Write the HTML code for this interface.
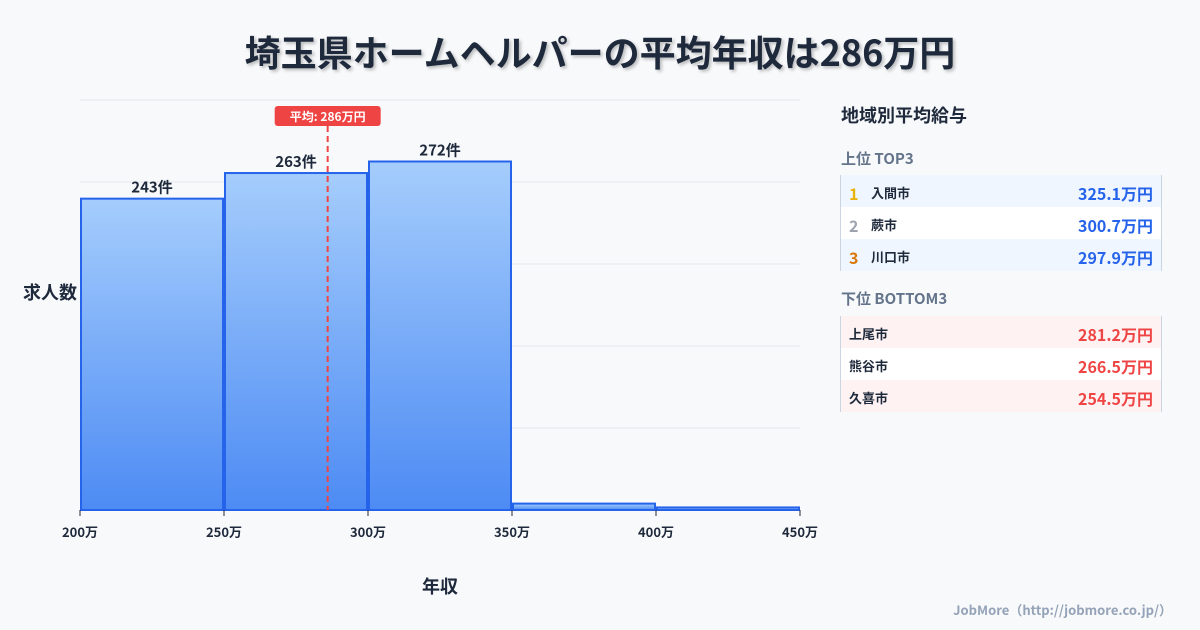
<!DOCTYPE html>
<html><head><meta charset="utf-8"><style>
body{margin:0;width:1200px;height:630px;background:#f8f9fb;font-family:"Noto Sans CJK JP","Liberation Sans",sans-serif;position:relative;overflow:hidden;color:#1e293b}
.title{position:absolute;top:26px;left:0;width:1200px;text-align:center;font-size:36px;line-height:50px;font-weight:bold;color:#1e293b;text-shadow:2px 2px 3px rgba(0,0,0,0.25)}
.ab{position:absolute;line-height:1}
.ph{left:841px;top:106px;font-size:18px;font-weight:bold}
.sub{left:841px;font-size:15px;font-weight:bold;color:#64748b}
.tbl{position:absolute;left:840px;width:320px;border-left:1px solid #cbd5e1;border-right:1px solid #cbd5e1}
.row{height:32px;display:flex;align-items:center;font-size:13px;font-weight:bold;padding:3px 8px 0;box-sizing:border-box;position:relative;line-height:1}
.row .v{position:absolute;right:8px;font-size:16px}
.rk{width:22px;font-size:16px}
.foot{right:28px;top:603px;font-size:13px;color:#94a3b8;font-weight:bold}
</style></head><body>
<div class="title">埼玉県ホームヘルパーの平均年収は286万円</div>
<svg id="chart" width="830" height="630" style="position:absolute;left:0;top:0;font-family:'Noto Sans CJK JP','Liberation Sans',sans-serif">
<defs><linearGradient id="g" x1="0" y1="0" x2="0" y2="1"><stop offset="0" stop-color="#a5cdfc"/><stop offset="1" stop-color="#4d8bf4"/></linearGradient></defs>
</svg>
<div class="ab ph">地域別平均給与</div>
<div class="ab sub" style="top:151px">上位 TOP3</div>
<div class="tbl" style="top:175px">
<div class="row" style="background:#eff6ff"><span class="rk" style="color:#eab308">1</span>入間市<span class="v" style="color:#2563eb">325.1万円</span></div>
<div class="row" style="background:#fff"><span class="rk" style="color:#9ca3af">2</span>蕨市<span class="v" style="color:#2563eb">300.7万円</span></div>
<div class="row" style="background:#eff6ff"><span class="rk" style="color:#d97706">3</span>川口市<span class="v" style="color:#2563eb">297.9万円</span></div>
</div>
<div class="ab sub" style="top:291px">下位 BOTTOM3</div>
<div class="tbl" style="top:316px">
<div class="row" style="background:#fef2f2">上尾市<span class="v" style="color:#ef4444">281.2万円</span></div>
<div class="row" style="background:#fff">熊谷市<span class="v" style="color:#ef4444">266.5万円</span></div>
<div class="row" style="background:#fef2f2">久喜市<span class="v" style="color:#ef4444">254.5万円</span></div>
</div>
<div class="ab foot">JobMore（http://jobmore.co.jp/）</div>
<script>
const binStarts=[200,250,300,350,400];
const counts=[243,263,272,5,2];
const tickLabels=["200万","250万","300万","350万","400万","450万"];
const tickValues=[200,250,300,350,400,450];
const avgValue=286;
const avgLabel="平均: 286万円";
const yMax=320;
const NS="http://www.w3.org/2000/svg";
const svg=document.getElementById('chart');
const x=v=>80+(v-200)*720/250;
const y=v=>510-v*410/yMax;
function mk(t,a,p){const e=document.createElementNS(NS,t);for(const k in a)e.setAttribute(k,a[k]);(p||svg).appendChild(e);return e;}
for(let i=0;i<=5;i++){const g=mk('line',{x1:80,x2:800,y1:y(i*yMax/5),y2:y(i*yMax/5),stroke:'#e5e7eb','stroke-width':1});

}
binStarts.forEach((b,i)=>{
const r=mk('rect',{x:x(b)+1,y:y(counts[i]),width:x(b+50)-x(b)-2,height:510-y(counts[i]),fill:'url(#g)',stroke:'#2563eb','stroke-width':2});


if(counts[i]>50){const t=mk('text',{x:(x(b)+x(b+50))/2,y:y(counts[i])-6,'text-anchor':'middle','font-size':15,'font-weight':'bold',fill:'#1e293b'});t.textContent=counts[i]+'件';

}
});
tickValues.forEach((v,i)=>{
const l=mk('line',{x1:x(v),x2:x(v),y1:510,y2:516,stroke:'#1e293b'});


const t=mk('text',{x:x(v),y:537,'text-anchor':'middle','font-size':13,'font-weight':'bold',fill:'#1e293b'});t.textContent=tickLabels[i];


});
const ax=x(avgValue);
const al=mk('line',{x1:ax,x2:ax,y1:126,y2:510,stroke:'#ef4444','stroke-width':2,'stroke-dasharray':'6,4'});


const ab=mk('rect',{x:ax-53,y:106,width:106,height:20,rx:3,fill:'#ef4444'});


const at=mk('text',{x:ax,y:121,'text-anchor':'middle','font-size':12,'font-weight':'bold',fill:'#fff'});at.textContent=avgLabel;


const yt=mk('text',{x:50,y:299,'text-anchor':'middle','font-size':18,'font-weight':'bold',fill:'#1e293b'});yt.textContent='求人数';


const xt=mk('text',{x:440,y:593,'text-anchor':'middle','font-size':18,'font-weight':'bold',fill:'#1e293b'});xt.textContent='年収';


</script>
</body></html>
